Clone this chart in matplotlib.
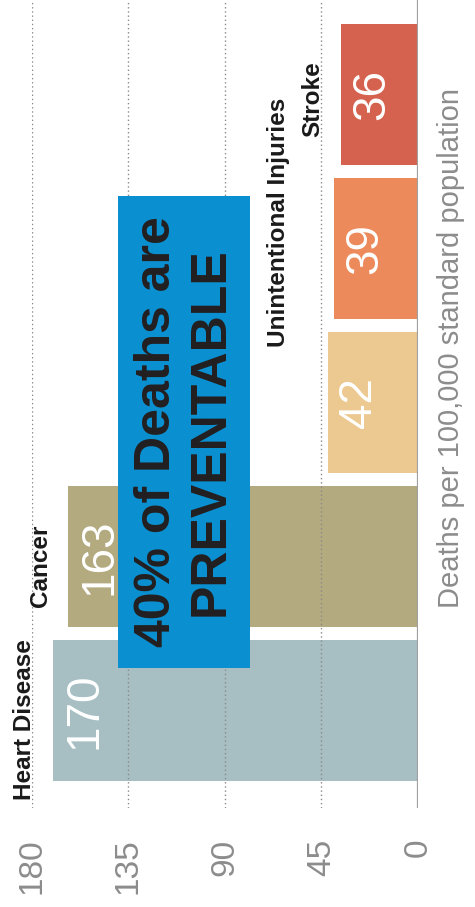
import matplotlib
matplotlib.use("Agg")
import matplotlib.pyplot as plt
from matplotlib.patches import Rectangle

plt.rcParams["font.family"] = ["Liberation Sans", "DejaVu Sans"]

# --- DATA ---
# bars from top to bottom of the page
rates = [36, 39, 42, 163, 170]
causes = ["Stroke", "Unintentional Injuries", None, "Cancer", "Heart Disease"]
colors = ["#d5614f", "#ed8a5b", "#edc992", "#b3aa7f", "#a7bfc3"]
ticks = [180, 135, 90, 45, 0]
headline = "40% of Deaths are\nPREVENTABLE"
axis_title = "Deaths per 100,000 standard population"

# --- LAYOUT ---
# where each cause name sits: (value along the axis, bar index where the text starts)
name_spots = {
    "Stroke": (49.0, 0.276),
    "Unintentional Injuries": (65.0, 1.64),
    "Cancer": (176.0, 3.328),
    "Heart Disease": (183.5, 4.581),
}
grey = "#8c8c8c"

fig = plt.figure(figsize=(4.75, 9.07), dpi=100)
ax = fig.add_axes([32 / 475, 1 - 808 / 907, 386 / 475, 808 / 907])

pos = list(range(len(rates)))
ax.barh(pos, rates, height=0.91, color=colors, zorder=1)

ax.set_xlim(180, 0)
ax.set_ylim(4.633, -0.6136)

# dotted gridlines drawn over the bars, solid line at zero
for t in ticks[:-1]:
    ax.axvline(t, color="#8a8a8a", lw=1.0, ls=(0, (1, 2)), zorder=2)
ax.axvline(0, color="#a0a0a0", lw=1.6, zorder=2)

for s in ax.spines.values():
    s.set_visible(False)
ax.set_yticks([])
ax.set_xticks(ticks)
ax.set_xticklabels([str(t) for t in ticks], rotation=90, fontsize=24, color=grey)
ax.tick_params(axis="x", length=0, pad=22)

# value printed inside the end of each bar
for p, v in zip(pos, rates):
    ax.annotate(str(v), (v, p), xytext=(9, 0), textcoords="offset pixels",
                rotation=90, ha="left", va="center", fontsize=33,
                color="white", zorder=3)

# cause names
for name in causes:
    if name is None:
        continue
    x, y = name_spots[name]
    ax.text(x, y, name, rotation=90, ha="center", va="bottom", fontsize=17.5,
            fontweight="bold", color="#1a1a1a", clip_on=False, zorder=3)

# blue callout box
ax.add_patch(Rectangle((78.4, 0.66), 61.5, 3.064, facecolor="#0a8fd0",
                       edgecolor="none", zorder=4))
ax.text(109.2, 2.19, headline, rotation=90, ha="center", va="center",
        multialignment="center", fontsize=36, fontweight="bold",
        color="#231f20", linespacing=1.2, zorder=5)

fig.text(451 / 475, 1 - 348 / 907, axis_title, rotation=90, ha="center",
         va="center", fontsize=21, color=grey)

fig.savefig("out.png", dpi=100)
